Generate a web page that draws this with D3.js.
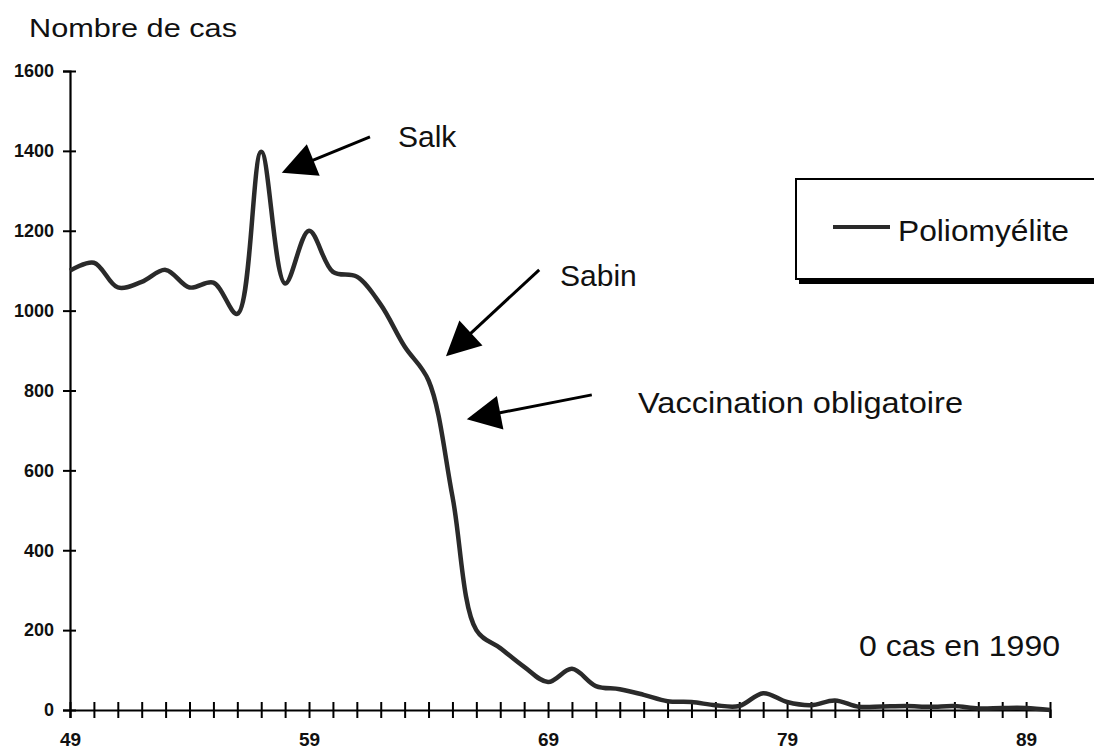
<!DOCTYPE html>
<html><head><meta charset="utf-8">
<script src="https://cdn.jsdelivr.net/npm/d3@7"></script>
<style>
body{margin:0;background:#fff;}
text{font-family:"Liberation Sans",Arial,sans-serif;fill:#111;}
</style></head>
<body>
<svg id="chart" width="1094" height="750"></svg>
<script>
// ---- data ----
const years = [49,50,51,52,53,54,55,56,57,58,59,60,61,62,63,64,65,66,67,68,69,70,71,72,73,74,75,76,77,78,79,80,81,82,83,84,85,86,87,88,89,90];
const cases = [1100,1120,1058,1072,1102,1058,1070,992,1398,1068,1200,1097,1085,1015,910,825,535,200,155,108,70,103,60,52,38,22,20,12,10,42,20,12,24,8,9,10,8,10,4,5,5,0];
const yTicks = [0,200,400,600,800,1000,1200,1400,1600];
const xLabelYears = [49,59,69,79,89];
const seriesName = "Poliomyélite";
const yTitle = "Nombre de cas";
// annotations: [label, tailYear, tailValue, tipYear, tipValue]
const arrows = [
  ["Salk", 61.55, 1435, 57.86, 1345],
  ["Sabin", 68.63, 1102, 64.73, 886],
  ["Vaccination obligatoire", 70.83, 789, 65.6, 728]
];

const svg = d3.select("#chart");
const x = d3.scaleLinear().domain([49,90]).range([70,1050]);
const y = d3.scaleLinear().domain([0,1600]).range([710,71]);

// axes
const yAxis = d3.axisLeft(y).tickValues(yTicks).tickSize(7).tickPadding(10).tickFormat(d3.format("d"));
const gy = svg.append("g").attr("transform","translate(70,0)").call(yAxis);
gy.select(".domain").attr("stroke","#000").attr("stroke-width",2.2);
gy.selectAll(".tick line").attr("x1",-7).attr("x2",6).attr("stroke","#000").attr("stroke-width",2);
gy.selectAll(".tick text").attr("x",-16).style("font-size","18px").style("font-weight","bold")
  .style("font-family","'Liberation Sans',Arial,sans-serif").attr("fill","#111");

const xAxis = d3.axisBottom(x).tickValues(years).tickSize(8).tickFormat(d => xLabelYears.includes(d) ? d : "");
const gx = svg.append("g").attr("transform","translate(0,710)").call(xAxis);
gx.select(".domain").attr("stroke","#000").attr("stroke-width",2.2);
gx.selectAll(".tick line").attr("y1",-8).attr("y2",8).attr("stroke","#000").attr("stroke-width",2);
gx.selectAll(".tick text").attr("y",36).attr("dy",0).style("font-size","19px").style("font-weight","bold")
  .style("font-family","'Liberation Sans',Arial,sans-serif").attr("fill","#111");

// line
const line = d3.line().x((d,i)=>x(years[i])).y(d=>y(d)).curve(d3.curveCatmullRom.alpha(0.5));
svg.append("path").datum(cases).attr("d",line).attr("fill","none")
  .attr("stroke","#2a2a2a").attr("stroke-width",4.5).attr("stroke-linejoin","round");

// title
svg.append("text").attr("x",29).attr("y",37).style("font-size","25px")
  .attr("textLength",208).attr("lengthAdjust","spacingAndGlyphs").text(yTitle);

// arrows
const headLen = 34, headHalf = 17;
arrows.forEach(a => {
  const x1 = x(a[1]), y1 = y(a[2]), x2 = x(a[3]), y2 = y(a[4]);
  const dx = x2-x1, dy = y2-y1, L = Math.hypot(dx,dy), ux = dx/L, uy = dy/L;
  const bx = x2-ux*headLen, by = y2-uy*headLen;
  svg.append("line").attr("x1",x1).attr("y1",y1).attr("x2",bx+ux*4).attr("y2",by+uy*4)
    .attr("stroke","#000").attr("stroke-width",3);
  svg.append("polygon").attr("points",[[x2,y2],[bx-uy*headHalf,by+ux*headHalf],[bx+uy*headHalf,by-ux*headHalf]].map(p=>p.join(",")).join(" "))
    .attr("fill","#000");
});
svg.append("text").attr("x",398).attr("y",147).style("font-size","30px").text(arrows[0][0]);
svg.append("text").attr("x",560).attr("y",286).style("font-size","30px").text(arrows[1][0]);
svg.append("text").attr("x",638).attr("y",413).style("font-size","30px")
  .attr("textLength",325).attr("lengthAdjust","spacingAndGlyphs").text(arrows[2][0]);
svg.append("text").attr("x",859).attr("y",656).style("font-size","30px")
  .attr("textLength",201).attr("lengthAdjust","spacingAndGlyphs").text("0 cas en 1990");

// legend
svg.append("rect").attr("x",796).attr("y",179).attr("width",400).attr("height",100)
  .attr("fill","#fff").attr("stroke","#000").attr("stroke-width",2);
svg.append("line").attr("x1",799).attr("x2",1094).attr("y1",281.5).attr("y2",281.5)
  .attr("stroke","#000").attr("stroke-width",5);
svg.append("line").attr("x1",833).attr("x2",890).attr("y1",227).attr("y2",227)
  .attr("stroke","#2a2a2a").attr("stroke-width",4);
svg.append("text").attr("x",898).attr("y",241).style("font-size","29px")
  .attr("textLength",171).attr("lengthAdjust","spacingAndGlyphs").text(seriesName);
</script>
</body></html>
